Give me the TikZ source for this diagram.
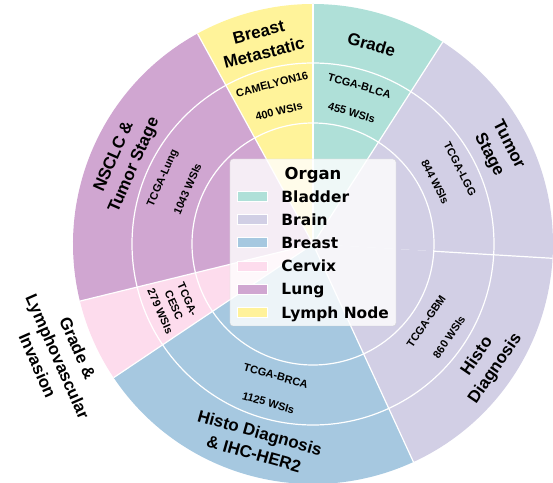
\documentclass[tikz,border=0pt]{standalone}
\usepackage{fontspec}
\setmainfont{Liberation Sans}
\newfontfamily\legendfont{DejaVu Sans}
\usepackage{tikz}
\usetikzlibrary{positioning}

\definecolor{bladder}{HTML}{8DD3C7}
\definecolor{brain}{HTML}{BEBADA}
\definecolor{breast}{HTML}{80B1D3}
\definecolor{cervix}{HTML}{FCCDE5}
\definecolor{lung}{HTML}{BC80BD}
\definecolor{lymph}{HTML}{FFED6F}

\tikzset{
    sep/.style={white, line width=1.2bp},
    task/.style={font=\bfseries\fontsize{17}{22}\selectfont, align=center, inner sep=0pt},
    dataset/.style={font=\bfseries\fontsize{11}{28}\selectfont, align=center, inner sep=0pt},
    patch/.style={draw=white, line width=0.5bp, minimum width=30bp, minimum height=10bp, inner sep=0pt},
    organ/.style={font=\legendfont\bfseries\fontsize{15.5}{18}\selectfont, inner sep=0pt, text height=11.3bp, text depth=0pt}
}

\begin{document}
\begin{tikzpicture}[x=1bp, y=1bp]
        \useasboundingbox (-313, -239) rectangle (240, 244);

        \foreach \a/\b/\c in {90/57.28/bladder, 57.28/-3.42/brain, -3.42/-65.26/brain, -65.26/-146.16/breast,
            -146.16/-166.23/cervix, -166.23/-241.23/lung, -241.23/-270/lymph}
            \fill[\c!70] (0, 0) -- (\a:240) arc[start angle=\a, end angle=\b, radius=240] -- cycle;
        \draw[sep] (0, 0) circle (121);
        \draw[sep] (0, 0) circle (181);
        \foreach \a in {90, 57.28, -65.26, -146.16, -166.23, 118.77}
            \draw[sep] (0, 0) -- (\a:240);
        \draw[sep] (-3.42:121) -- (-3.42:240);

        \node[dataset, rotate=-16.36] (blca) at (73.64:151) {TCGA-BLCA\\455 WSIs};
        \node[dataset, rotate=-63.07] (lgg) at (26.93:151) {TCGA-LGG\\844 WSIs};
        \node[dataset, rotate=55.66] (gbm) at (-34.34:151) {TCGA-GBM\\860 WSIs};
        \node[dataset, rotate=-15.71] (brca) at (-105.71:151) {TCGA-BRCA\\1125 WSIs};
        \node[dataset, rotate=-66.2, font=\bfseries\fontsize{11}{15}\selectfont] (cesc) at (-156.2:152) {TCGA-\\CESC\\279 WSIs};
        \node[dataset, rotate=66.27] (luad) at (156.27:151) {TCGA-Lung\\1043 WSIs};
        \node[dataset, rotate=14.38] (camelyon) at (104.38:151) {CAMELYON16\\400 WSIs};

        \node[task, rotate=-16.36] (grade) at (73.64:208) {Grade};
        \node[task, rotate=-63.07] (tumorstage) at (26.93:208) {Tumor\\Stage};
        \node[task, rotate=55.66] (histo) at (-34.34:210) {Histo\\Diagnosis};
        \node[task, rotate=-15.71] (her) at (-105.71:207) {Histo Diagnosis\\\& IHC-HER2};
        \node[task, rotate=-66.2] (lvi) at (-156.2:279) {Grade \&\\Lymphovascular\\Invasion};
        \node[task, rotate=66.27] (nsclc) at (156.27:206) {NSCLC \&\\Tumor Stage};
        \node[task, rotate=14.38] (meta) at (104.38:208) {Breast\\Metastatic};

        \node[draw=black!20, fill=white, fill opacity=0.8, draw opacity=0.8, rounded corners=3bp,
            minimum width=166bp, minimum height=167bp] (legend) at (0, 1.5) {};
        \node[font=\legendfont\bfseries\fontsize{16.5}{20}\selectfont, anchor=base] (title) at (0, 64.7) {Organ};
        \node[patch, fill=bladder!70] (pbladder) at (-61, 47.3) {};
        \node[patch, fill=brain!70] (pbrain) at (-61, 24.3) {};
        \node[patch, fill=breast!70] (pbreast) at (-61, 1.3) {};
        \node[patch, fill=cervix!70] (pcervix) at (-61, -22) {};
        \node[patch, fill=lung!70] (plung) at (-61, -45.3) {};
        \node[patch, fill=lymph!70] (plymph) at (-61, -68.7) {};
        \node[organ, right=14bp of pbladder] (tbladder) {Bladder};
        \node[organ, right=14bp of pbrain] (tbrain) {Brain};
        \node[organ, right=14bp of pbreast] (tbreast) {Breast};
        \node[organ, right=14bp of pcervix] (tcervix) {Cervix};
        \node[organ, right=14bp of plung] (tlung) {Lung};
        \node[organ, right=14bp of plymph] (tlymph) {Lymph Node};
\end{tikzpicture}
\end{document}
